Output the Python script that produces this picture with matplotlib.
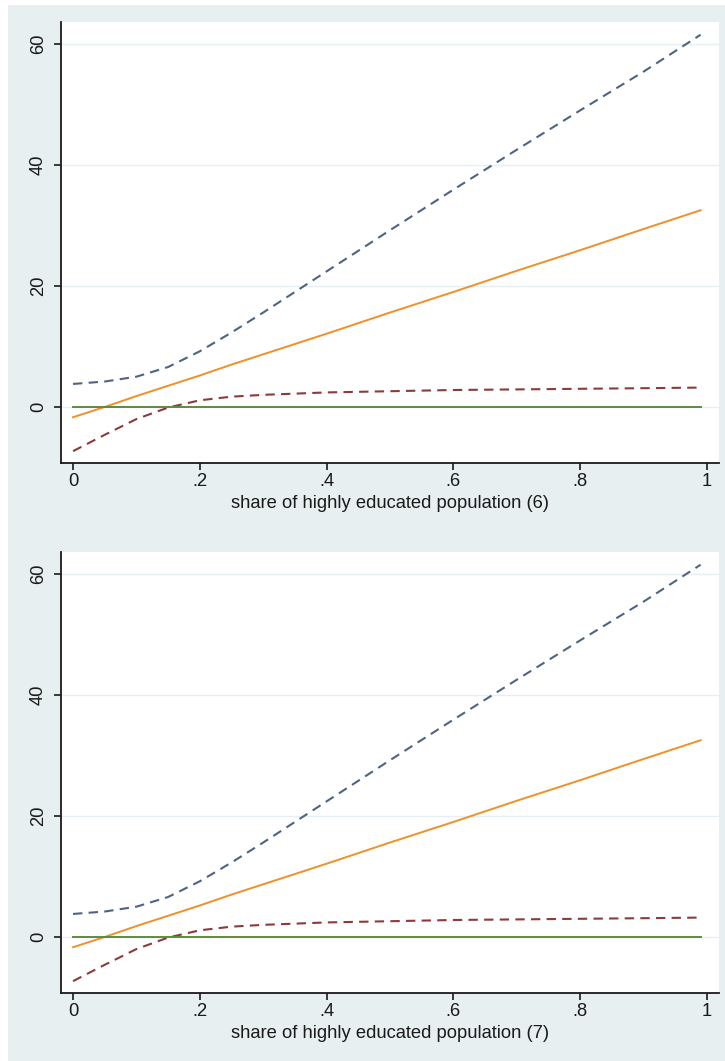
import matplotlib.pyplot as plt
from matplotlib.patches import Rectangle

# share of highly educated population, marginal effect with 95% CI
x = [0.0, 0.05, 0.1, 0.15, 0.2, 0.25, 0.3, 0.4, 0.5, 0.6, 0.7, 0.8, 0.9, 0.99]
upper = [3.8, 4.2, 5.0, 6.6, 9.2, 12.3, 15.6, 22.4, 29.2, 35.9, 42.5, 49.0, 55.4, 61.5]
effect = [-1.7, 0.0, 1.8, 3.5, 5.2, 7.0, 8.7, 12.1, 15.6, 19.0, 22.5, 25.9, 29.4, 32.5]
lower = [-7.3, -4.6, -2.0, -0.1, 1.1, 1.7, 2.0, 2.4, 2.6, 2.8, 2.9, 3.0, 3.1, 3.2]
zero = [0.0] * len(x)

panel_labels = ["share of highly educated population (6)",
                "share of highly educated population (7)"]
xticks = [0, 0.2, 0.4, 0.6, 0.8, 1]
xticklabels = ["0", ".2", ".4", ".6", ".8", "1"]
yticks = [0, 20, 40, 60]

plt.rcParams['font.family'] = ['Liberation Sans', 'DejaVu Sans']

W, H = 725, 1061
fig = plt.figure(figsize=(W / 100, H / 100), dpi=100)
fig.patch.set_facecolor('white')
bg = '#e8eff1'
fig.patches.append(Rectangle((8 / W, 0), 1 - 8 / W, 1 - 5 / H,
                             transform=fig.transFigure, facecolor=bg,
                             edgecolor='none', zorder=-10))

# axes boxes in pixels: left, top, right, bottom
boxes = [(61, 22, 719, 463), (61, 552, 719, 993)]
txt = '#1a1a1a'

for (l, t, r, b), lab in zip(boxes, panel_labels):
    ax = fig.add_axes([l / W, 1 - b / H, (r - l) / W, (b - t) / H])
    ax.set_facecolor('white')
    ax.plot(x, upper, color='#4f6482', lw=1.5, ls=(0, (4.5, 3)))
    ax.plot(x, effect, color='#f0902a', lw=1.4)
    ax.plot(x, lower, color='#8c3b3b', lw=1.5, ls=(0, (4.5, 3)))
    ax.plot(x, zero, color='#5e8a3e', lw=1.4)

    ax.set_xlim(-0.019, 1.019)
    ax.set_ylim(-9.26, 63.6)
    ax.set_xticks(xticks)
    ax.set_xticklabels(xticklabels)
    ax.set_yticks(yticks)
    ax.set_yticklabels([str(v) for v in yticks], rotation=90, va='center')
    ax.grid(axis='y', color='#e6eff2', lw=1)
    ax.set_axisbelow(True)
    for s in ['top', 'right']:
        ax.spines[s].set_visible(False)
    for s in ['left', 'bottom']:
        ax.spines[s].set_color(txt)
        ax.spines[s].set_linewidth(1.3)
    ax.tick_params(axis='both', length=5, width=1.2, color=txt,
                   labelsize=13.2, labelcolor=txt)
    ax.tick_params(axis='y', pad=5)
    ax.tick_params(axis='x', pad=2)
    ax.set_xlabel(lab, fontsize=13.2, color=txt, labelpad=4)

fig.savefig('out.png', dpi=100, facecolor=fig.get_facecolor())
